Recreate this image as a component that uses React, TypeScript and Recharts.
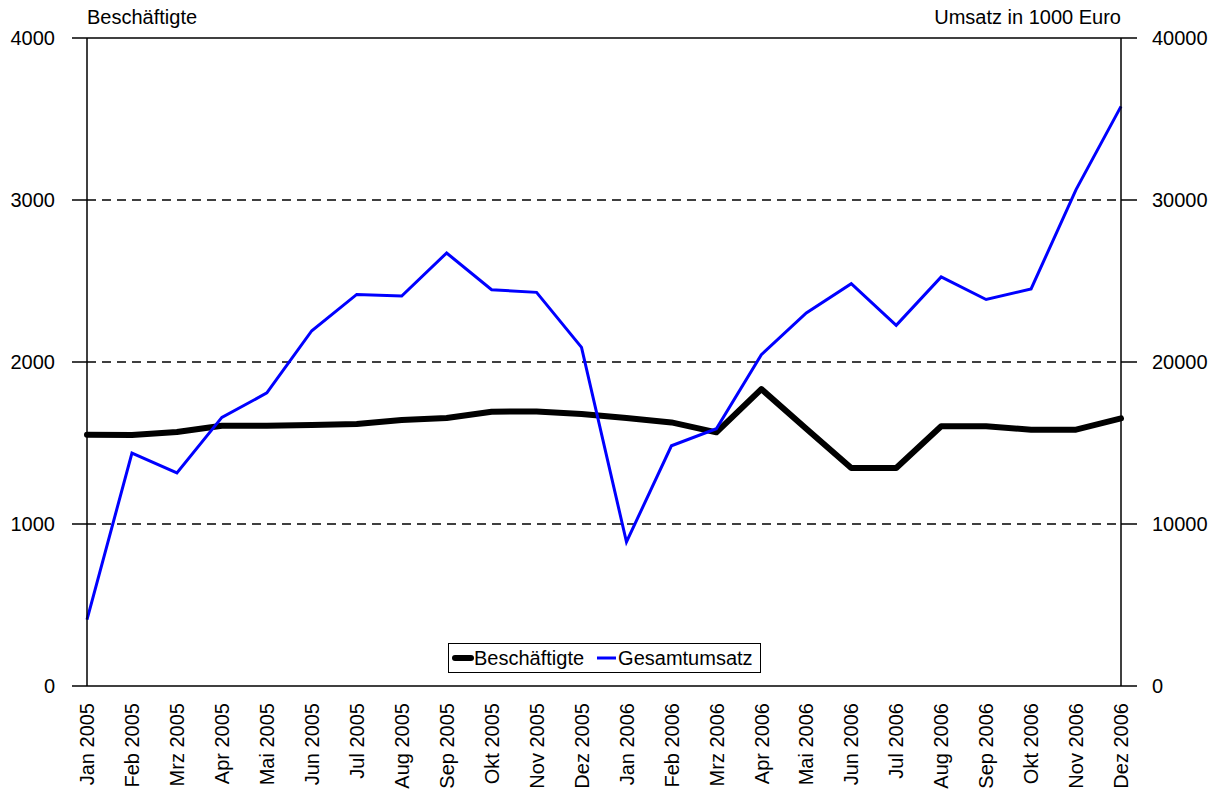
import React from 'react';
import { LineChart, Line, XAxis, YAxis, Legend, ReferenceLine } from 'recharts';

const months = [
  'Jan 2005', 'Feb 2005', 'Mrz 2005', 'Apr 2005', 'Mai 2005', 'Jun 2005',
  'Jul 2005', 'Aug 2005', 'Sep 2005', 'Okt 2005', 'Nov 2005', 'Dez 2005',
  'Jan 2006', 'Feb 2006', 'Mrz 2006', 'Apr 2006', 'Mai 2006', 'Jun 2006',
  'Jul 2006', 'Aug 2006', 'Sep 2006', 'Okt 2006', 'Nov 2006', 'Dez 2006',
];

// Beschäftigte (left axis)
const beschaeftigte = [
  1551, 1549, 1568, 1607, 1607, 1611, 1617, 1642, 1654, 1693, 1695, 1679,
  1654, 1627, 1566, 1833, 1588, 1346, 1346, 1603, 1603, 1582, 1582, 1652,
];

// Gesamtumsatz in 1000 Euro (right axis)
const gesamtumsatz = [
  4100, 14380, 13150, 16580, 18090, 21930, 24170, 24070, 26730, 24460, 24300, 20900,
  8890, 14830, 15880, 20450, 23030, 24830, 22260, 25250, 23860, 24510, 30640, 35780,
];

const leftTicks = [0, 1000, 2000, 3000, 4000];
const rightTicks = [0, 10000, 20000, 30000, 40000];
const gridLines = [1000, 2000, 3000];

const data = months.map((month, i) => ({
  month,
  beschaeftigte: beschaeftigte[i],
  gesamtumsatz: gesamtumsatz[i],
}));

const FONT = '"Liberation Sans", Arial, sans-serif';
const FS = 20;

function MonthTick({ x, y, payload }: any) {
  return (
    <text
      x={x}
      y={y}
      transform={`rotate(-90 ${x} ${y})`}
      textAnchor="end"
      dy="0.36em"
      fontSize={FS}
      fontFamily={FONT}
      fill="#000"
    >
      {payload.value}
    </text>
  );
}

function renderLegend() {
  return (
    <div
      style={{
        border: '1px solid #000',
        background: '#fff',
        display: 'flex',
        alignItems: 'center',
        height: 28,
        padding: '0 7px 0 3px',
        fontSize: FS,
        fontFamily: FONT,
        color: '#000',
        whiteSpace: 'nowrap',
      }}
    >
      <svg width={22} height={10}>
        <line x1={3} y1={5} x2={19} y2={5} stroke="#000" strokeWidth={6} strokeLinecap="round" />
      </svg>
      <span>Beschäftigte</span>
      <svg width={22} height={10} style={{ marginLeft: 12 }}>
        <line x1={1} y1={5} x2={20} y2={5} stroke="#0000ff" strokeWidth={3} />
      </svg>
      <span>Gesamtumsatz</span>
    </div>
  );
}

export default function App() {
  return (
    <div style={{ position: 'absolute', left: 0, top: 0, width: 1220, height: 790, background: '#fff' }}>
      <LineChart
        width={1220}
        height={790}
        data={data}
        margin={{ top: 38, right: 0, bottom: 0, left: 0 }}
      >
        <XAxis
          dataKey="month"
          interval={0}
          height={104}
          tickLine={false}
          tickSize={0}
          tickMargin={17}
          axisLine={{ stroke: '#000', strokeWidth: 1.5 }}
          tick={<MonthTick />}
        />
        <YAxis
          yAxisId="left"
          width={87}
          domain={[0, 4000]}
          ticks={leftTicks}
          tickSize={15}
          tickMargin={17}
          axisLine={{ stroke: '#000', strokeWidth: 1.5 }}
          tickLine={{ stroke: '#000', strokeWidth: 1.5 }}
          tick={{ fill: '#000', fontSize: FS, fontFamily: FONT }}
          label={{
            content: ({ viewBox }: any) => (
              <text
                x={viewBox.x + viewBox.width}
                y={viewBox.y - 14}
                fontSize={FS}
                fontFamily={FONT}
                fill="#000"
              >
                Beschäftigte
              </text>
            ),
          }}
        />
        <YAxis
          yAxisId="right"
          orientation="right"
          width={99}
          domain={[0, 40000]}
          ticks={rightTicks}
          tickSize={16}
          tickMargin={15}
          axisLine={{ stroke: '#000', strokeWidth: 1.5 }}
          tickLine={{ stroke: '#000', strokeWidth: 1.5 }}
          tick={{ fill: '#000', fontSize: FS, fontFamily: FONT, textAnchor: 'start' }}
          label={{
            content: ({ viewBox }: any) => (
              <text
                x={viewBox.x}
                y={viewBox.y - 14}
                textAnchor="end"
                fontSize={FS}
                fontFamily={FONT}
                fill="#000"
              >
                Umsatz in 1000 Euro
              </text>
            ),
          }}
        />
        {gridLines.map((v) => (
          <ReferenceLine
            key={v}
            yAxisId="left"
            y={v}
            stroke="#000"
            strokeWidth={1.3}
            strokeDasharray="9 6"
          />
        ))}
        <ReferenceLine yAxisId="left" y={4000} stroke="#000" strokeWidth={1.5} />
        <Legend
          layout="vertical"
          align="center"
          verticalAlign="middle"
          content={renderLegend}
          wrapperStyle={{ left: 448, top: 643, width: 'auto', height: 'auto' }}
        />
        <Line
          yAxisId="left"
          type="linear"
          dataKey="beschaeftigte"
          name="Beschäftigte"
          stroke="#000"
          strokeWidth={6}
          strokeLinejoin="round"
          strokeLinecap="round"
          dot={false}
          activeDot={false}
          isAnimationActive={false}
        />
        <Line
          yAxisId="right"
          type="linear"
          dataKey="gesamtumsatz"
          name="Gesamtumsatz"
          stroke="#0000ff"
          strokeWidth={3}
          dot={false}
          activeDot={false}
          isAnimationActive={false}
        />
      </LineChart>
    </div>
  );
}
